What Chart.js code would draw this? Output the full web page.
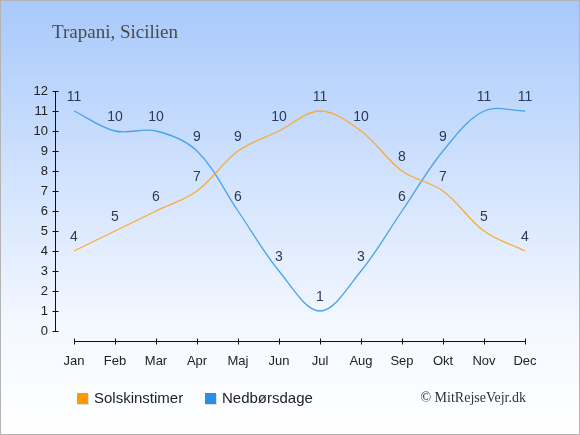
<!DOCTYPE html>
<html>
<head>
<meta charset="utf-8">
<script src="https://cdn.jsdelivr.net/npm/chart.js@4"></script>
<style>
  body { margin: 0; background: #fff; }
  #wrap { width: 580px; height: 435px; }
</style>
</head>
<body>
<div id="wrap"><canvas id="chart" width="580" height="435"></canvas></div>
<script>
// Data for the chart
const months = ["Jan", "Feb", "Mar", "Apr", "Maj", "Jun", "Jul", "Aug", "Sep", "Okt", "Nov", "Dec"];
const sunHours = [4, 5, 6, 7, 9, 10, 11, 10, 8, 7, 5, 4];
const rainDays = [11, 10, 10, 9, 6, 3, 1, 3, 6, 9, 11, 11];
const yTicks = [0, 1, 2, 3, 4, 5, 6, 7, 8, 9, 10, 11, 12];
const title = "Trapani, Sicilien";
const credit = "\u00A9 MitRejseVejr.dk";

const sunColor = "#fbaa36";
const rainColor = "#4aa2ec";
const sunLegend = "#ff9900";
const rainLegend = "#2b8fe6";

// Baggrund, akser, titel, legend og datalabels
const decor = {
  id: "decor",
  beforeDraw: function (chart) {
    const ctx = chart.ctx;
    const w = chart.width;
    const h = chart.height;
    const grad = ctx.createLinearGradient(0, 0, 0, h);
    grad.addColorStop(0, "#a8c9fb");
    grad.addColorStop(0.75, "#f4f8ff");
    grad.addColorStop(1, "#ffffff");
    ctx.save();
    ctx.fillStyle = grad;
    ctx.fillRect(0, 0, w, h);
    ctx.strokeStyle = "#b4b4b4";
    ctx.lineWidth = 1;
    ctx.strokeRect(0.5, 0.5, w - 1, h - 1);
    ctx.restore();
  },
  afterDatasetsDraw: function (chart) {
    const ctx = chart.ctx;
    ctx.save();
    ctx.font = "14px 'Liberation Sans', Arial, sans-serif";
    ctx.fillStyle = "#2a3a58";
    ctx.textAlign = "center";
    ctx.textBaseline = "middle";
    chart.data.datasets.forEach(function (ds, i) {
      const meta = chart.getDatasetMeta(i);
      meta.data.forEach(function (pt, j) {
        ctx.fillText(String(ds.data[j]), pt.x, pt.y - 14);
      });
    });
    ctx.restore();
  },
  afterDraw: function (chart) {
    const ctx = chart.ctx;
    const x = chart.scales.x;
    const y = chart.scales.y;
    ctx.save();
    ctx.strokeStyle = "#111";
    ctx.lineWidth = 1;

    // Y akse
    const yAxisX = 55.5;
    ctx.beginPath();
    ctx.moveTo(yAxisX, Math.round(y.getPixelForValue(12)) + 0.5);
    ctx.lineTo(yAxisX, Math.round(y.getPixelForValue(0)) + 0.5);
    yTicks.forEach(function (v) {
      const py = Math.round(y.getPixelForValue(v)) + 0.5;
      ctx.moveTo(yAxisX - 3, py);
      ctx.lineTo(yAxisX + 3, py);
    });
    ctx.stroke();

    // X akse
    const xAxisY = Math.round(y.getPixelForValue(0)) + 10.5;
    ctx.beginPath();
    ctx.moveTo(Math.round(x.getPixelForValue(0)), xAxisY);
    ctx.lineTo(Math.round(x.getPixelForValue(months.length - 1)) + 1, xAxisY);
    months.forEach(function (m, i) {
      const px = Math.round(x.getPixelForValue(i)) + 0.5;
      ctx.moveTo(px, xAxisY - 3);
      ctx.lineTo(px, xAxisY + 3);
    });
    ctx.stroke();

    // Titel
    ctx.font = "19px 'Liberation Serif', 'DejaVu Serif', serif";
    ctx.fillStyle = "#4a4a4a";
    ctx.textAlign = "left";
    ctx.textBaseline = "middle";
    ctx.fillText(title, 52, 33);

    // Legend
    const items = [
      { label: chart.data.datasets[0].label, color: sunLegend, x: 77 },
      { label: chart.data.datasets[1].label, color: rainLegend, x: 205 },
    ];
    ctx.font = "15px 'Liberation Sans', Arial, sans-serif";
    items.forEach(function (it) {
      ctx.fillStyle = "rgba(0,0,0,0.12)";
      ctx.fillRect(it.x + 1, 394, 11, 11);
      ctx.fillStyle = it.color;
      ctx.fillRect(it.x, 393, 11, 11);
      ctx.fillStyle = "#222";
      ctx.fillText(it.label, it.x + 17, 398.5);
    });

    // Copyright
    ctx.font = "14px 'Liberation Serif', 'DejaVu Serif', serif";
    ctx.fillStyle = "#333";
    ctx.textAlign = "right";
    ctx.fillText(credit, 526, 398);
    ctx.restore();
  },
};

new Chart(document.getElementById("chart").getContext("2d"), {
  type: "line",
  data: {
    labels: months,
    datasets: [
      {
        label: "Solskinstimer",
        data: sunHours,
        borderColor: sunColor,
        backgroundColor: sunLegend,
        borderWidth: 1.3,
        pointRadius: 0,
        fill: false,
        tension: 0.35,
      },
      {
        label: "Nedbørsdage",
        data: rainDays,
        borderColor: rainColor,
        backgroundColor: rainLegend,
        borderWidth: 1.3,
        pointRadius: 0,
        fill: false,
        tension: 0.35,
      },
    ],
  },
  options: {
    responsive: false,
    animation: false,
    devicePixelRatio: 1,
    layout: {
      padding: { top: 91, right: 55, left: 0, bottom: 0 },
    },
    plugins: {
      legend: { display: false },
      title: { display: false },
      tooltip: { enabled: false },
    },
    scales: {
      x: {
        grid: { display: false },
        border: { display: false },
        ticks: {
          color: "#222",
          padding: 15,
          maxRotation: 0,
          font: { family: "'Liberation Sans', Arial, sans-serif", size: 13 },
        },
        afterFit: function (scale) {
          scale.height = 104;
        },
      },
      y: {
        min: 0,
        max: 12,
        grid: { display: false },
        border: { display: false },
        ticks: {
          stepSize: 1,
          color: "#222",
          padding: 18,
          font: { family: "'Liberation Sans', Arial, sans-serif", size: 13 },
        },
        afterFit: function (scale) {
          scale.width = 74;
        },
      },
    },
  },
  plugins: [decor],
});
</script>
</body>
</html>
